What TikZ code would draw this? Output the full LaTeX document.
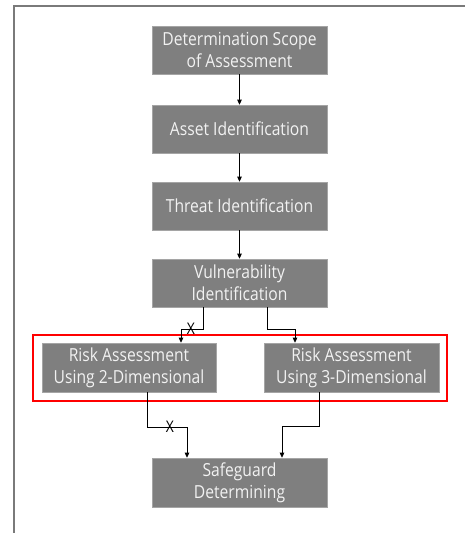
\documentclass[tikz,border=0pt]{standalone}
\usepackage{fontspec}
\setmainfont[FakeStretch=0.87]{Open Sans}
\usetikzlibrary{arrows.meta}
\definecolor{boxgray}{HTML}{7F7F7F}
\definecolor{boxtext}{HTML}{F2F2F2}
\definecolor{framegray}{HTML}{7A7A7A}
\begin{document}
\begin{tikzpicture}[x=1pt,y=-1pt,
  stepbox/.style={fill=boxgray,draw=boxgray!70!white,line width=0.6pt,text=boxtext,align=center,
    minimum width=175pt,minimum height=48pt,inner sep=0pt,
    font=\fontsize{18}{22}\selectfont},
  conn/.style={line width=0.8pt,draw=black,-{Triangle[length=5pt,width=4.5pt]}},
  xmark/.style={font=\fontsize{16}{16}\selectfont,inner sep=0pt,text=black}]
\useasboundingbox (0,0) rectangle (465,533);
\fill[white] (0,0) rectangle (465,533);
\draw[framegray,line width=1.5pt] (465,6) -- (14,6) -- (14,533);

\node[stepbox] (b1) at (239.5,50) {Determination Scope\\of Assessment};
\node[stepbox] (b2) at (239.5,129) {Asset Identification};
\node[stepbox] (b3) at (239.5,206) {Threat Identification};
\node[stepbox] (b4) at (239.5,283) {Vulnerability\\Identification};
\node[stepbox,minimum width=174pt,minimum height=49pt] (b5) at (129,367.5) {Risk Assessment\\Using 2-Dimensional};
\node[stepbox,minimum height=49pt] (b6) at (351.5,367.5) {Risk Assessment\\Using 3-Dimensional};
\node[stepbox,minimum height=49pt] (b7) at (239.5,482.5) {Safeguard\\Determining};

\draw[red,line width=2.5pt] (33,335) rectangle (447,401);

\draw[conn] (b1) -- (b2);
\draw[conn] (b2) -- (b3);
\draw[conn] (b3) -- (b4);
\draw[conn] ([xshift=-36.5pt]b4.south) -- ++(0pt,-22pt) -| ([xshift=52pt]b5.north);
\draw[conn] ([xshift=27.5pt]b4.south) -- ++(0pt,-22pt) -| ([xshift=-56.5pt]b6.north);
\draw[conn] ([xshift=18pt]b5.south) -- ++(0pt,-35pt) -| ([xshift=-52.5pt]b7.north);
\draw[conn] ([xshift=-32.5pt]b6.south) -- ++(0pt,-34pt) -| ([xshift=42.5pt]b7.north);

\node[xmark] (x1) at (191,329) {X};
\node[xmark] (x2) at (170,427) {X};
\end{tikzpicture}
\end{document}
